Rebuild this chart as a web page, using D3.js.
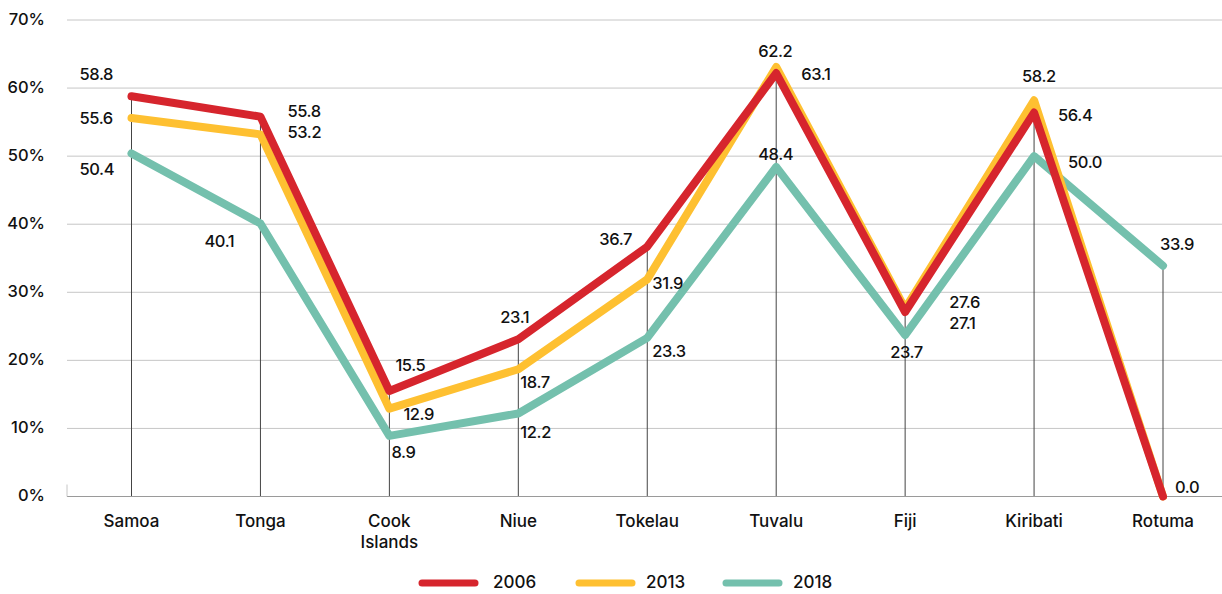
<!DOCTYPE html>
<html>
<head>
<meta charset="utf-8">
<script src="https://cdn.jsdelivr.net/npm/d3@7"></script>
<style>
  html, body { margin: 0; padding: 0; background: #fff; }
  svg { display: block; font-family: "Inter", "Noto Sans", sans-serif; }
</style>
</head>
<body>
<svg id="chart" width="1222" height="594"></svg>
<script>
// ---- data ----
const categories = ["Samoa", "Tonga", "Cook Islands", "Niue", "Tokelau", "Tuvalu", "Fiji", "Kiribati", "Rotuma"];
const seriesNames = ["2006", "2013", "2018"];
const values2006 = [58.8, 55.8, 15.5, 23.1, 36.7, 62.2, 27.1, 56.4, 0.0];
const values2013 = [55.6, 53.2, 12.9, 18.7, 31.9, 63.1, 27.6, 58.2, 0.0];
const values2018 = [50.4, 40.1, 8.9, 12.2, 23.3, 48.4, 23.7, 50.0, 33.9];
const yTicks = [0, 10, 20, 30, 40, 50, 60, 70];

// ---- styling / label placement (not data) ----
const colors = { "2006": "#D6252D", "2013": "#FEC031", "2018": "#74C0AD" };
// label offsets [dx, dy] relative to point; null = no label
const labelOffsets = {
  "2006": [[-52,-21],[27,-4],[6,-24],[-18,-21],[-48,-6],[-18,-21],[44,12],[24,4],[12,-8]],
  "2013": [[-52,1],[27,-1],[14,7],[2,14],[5,5],[25,9],[44,-5],[-12,-23],null],
  "2018": [[-52,17],[-56,19],[2,18],[2,20],[5,15],[-18,-12],[-15,18],[34,7],[-3,-20]]
};

const series = [
  { name: "2006", values: values2006 },
  { name: "2013", values: values2013 },
  { name: "2018", values: values2018 }
];

const svg = d3.select("#chart");
const plotLeft = 67, plotRight = 1222, plotTop = 20, plotBottom = 496.5;

const x = d3.scalePoint().domain(categories).range([131.5, 1163]);
const cx = c => x(c);
const y = d3.scaleLinear().domain([0, 70]).range([plotBottom, plotTop]);

// gridlines
svg.append("g").selectAll("line").data(yTicks.filter(t => t > 0)).join("line")
  .attr("x1", plotLeft).attr("x2", plotRight)
  .attr("y1", d => y(d)).attr("y2", d => y(d))
  .attr("stroke", "#c6c6c6").attr("stroke-width", 1);

// y axis labels
svg.append("g").selectAll("text").data(yTicks).join("text")
  .attr("x", 45).attr("y", d => y(d))
  .attr("text-anchor", "end").attr("dominant-baseline", "middle")
  .attr("font-size", 16.5).attr("font-weight", 500).attr("fill", "#111")
  .text(d => d + "%");

// drop lines
svg.append("g").selectAll("line").data(categories).join("line")
  .attr("x1", d => cx(d)).attr("x2", d => cx(d))
  .attr("y1", plotBottom)
  .attr("y2", (d, i) => y(Math.max(values2006[i], values2013[i], values2018[i])))
  .attr("stroke", "#444").attr("stroke-width", 1);

// baseline
svg.append("line").attr("x1", plotLeft).attr("x2", plotRight).attr("y1", plotBottom).attr("y2", plotBottom)
  .attr("stroke", "#9a9a9a").attr("stroke-width", 1.2);
svg.append("line").attr("x1", plotLeft).attr("x2", plotLeft).attr("y1", plotBottom - 12).attr("y2", plotBottom)
  .attr("stroke", "#c6c6c6").attr("stroke-width", 1);

// x axis labels
const xl = svg.append("g").selectAll("text").data(categories).join("text")
  .attr("x", d => cx(d)).attr("y", 522)
  .attr("text-anchor", "middle").attr("dominant-baseline", "middle")
  .attr("font-size", 17).attr("font-weight", 500).attr("fill", "#111");
xl.each(function(d) {
  const t = d3.select(this);
  const words = d === "Cook Islands" ? ["Cook", "Islands"] : [d];
  words.forEach((w, i) => {
    t.append("tspan").attr("x", cx(d)).attr("dy", i === 0 ? 0 : 21).text(w);
  });
});

// lines (draw 2018 first, then 2013, then 2006 on top)
const line = d3.line().x((d, i) => cx(categories[i])).y(d => y(d));
[...series].reverse().forEach(s => {
  svg.append("path").datum(s.values)
    .attr("d", line)
    .attr("fill", "none")
    .attr("stroke", colors[s.name])
    .attr("stroke-width", 8)
    .attr("stroke-linejoin", "round")
    .attr("stroke-linecap", "round");
});

// data labels
series.forEach(s => {
  s.values.forEach((v, i) => {
    const off = labelOffsets[s.name][i];
    if (!off) return;
    svg.append("text")
      .attr("x", cx(categories[i]) + off[0])
      .attr("y", y(v) + off[1])
      .attr("dominant-baseline", "middle")
      .attr("font-size", 16.5).attr("font-weight", 500).attr("fill", "#111")
      .attr("letter-spacing", "-0.4")
      .text(v.toFixed(1));
  });
});

// legend
const legendItems = [
  { name: "2006", x1: 422, x2: 475, tx: 493 },
  { name: "2013", x1: 579, x2: 632, tx: 646 },
  { name: "2018", x1: 726, x2: 779, tx: 793 }
];
const lg = svg.append("g");
legendItems.forEach(it => {
  lg.append("line").attr("x1", it.x1).attr("x2", it.x2).attr("y1", 583).attr("y2", 583)
    .attr("stroke", colors[it.name]).attr("stroke-width", 7).attr("stroke-linecap", "round");
  lg.append("text").attr("x", it.tx).attr("y", 583).attr("dominant-baseline", "middle")
    .attr("font-size", 17).attr("font-weight", 500).attr("fill", "#111").text(it.name);
});
</script>
</body>
</html>
